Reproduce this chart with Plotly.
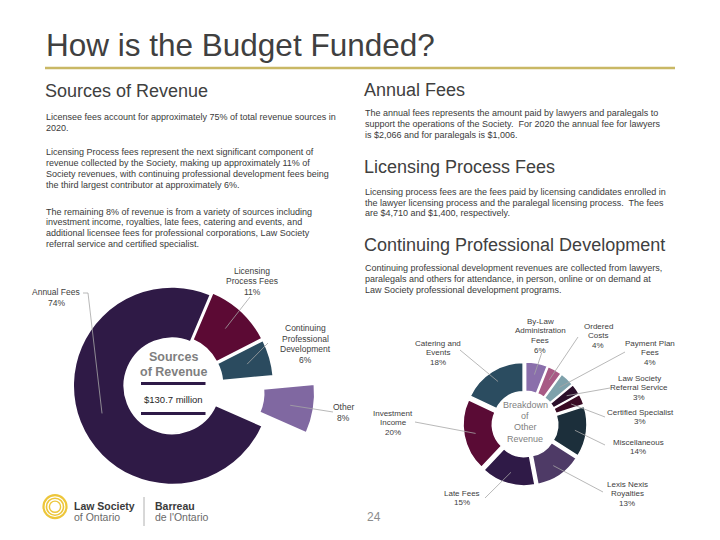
import math
import plotly.graph_objects as go

# ---------------- data ----------------
title_text = "How is the Budget Funded?"

src_categories = ["Annual Fees", "Licensing<br>Process Fees", "Continuing<br>Professional<br>Development", "Other"]
src_values = [74, 11, 6, 8]
src_total_text = "$130.7 million"

oth_categories = ["By-Law<br>Administration<br>Fees", "Ordered<br>Costs", "Payment Plan<br>Fees",
                  "Law Society<br>Referral Service", "Certified Specialist", "Miscellaneous",
                  "Lexis Nexis<br>Royalties", "Late Fees", "Investment<br>Income", "Catering and<br>Events"]
oth_values = [6, 4, 4, 3, 3, 14, 13, 15, 20, 18]

left_header = "Sources of Revenue"
left_paragraphs = [
    ["Licensee fees account for approximately 75% of total revenue sources in",
     "2020."],
    ["Licensing Process fees represent the next significant component of",
     "revenue collected by the Society, making up approximately 11% of",
     "Society revenues, with continuing professional development fees being",
     "the third largest contributor at approximately 6%."],
    ["The remaining 8% of revenue is from a variety of sources including",
     "investment income, royalties, late fees, catering and events, and",
     "additional licensee fees for professional corporations, Law Society",
     "referral service and certified specialist."],
]
right_sections = [
    ("Annual Fees",
     ["The annual fees represents the amount paid by lawyers and paralegals to",
      "support the operations of the Society.  For 2020 the annual fee for lawyers",
      "is $2,066 and for paralegals is $1,006."]),
    ("Licensing Process Fees",
     ["Licensing process fees are the fees paid by licensing candidates enrolled in",
      "the lawyer licensing process and the paralegal licensing process.  The fees",
      "are $4,710 and $1,400, respectively."]),
    ("Continuing Professional Development",
     ["Continuing professional development revenues are collected from lawyers,",
      "paralegals and others for attendance, in person, online or on demand at",
      "Law Society professional development programs."]),
]
page_number = "24"

# ---------------- styles / layout ----------------
W, H = 720, 540
OFF = 8  # the page body margin shifts the figure by 8px
FONT = "Liberation Sans, Arial, sans-serif"
TXT = "#404040"
LEAD = "#a6a6a6"

src_colors = ["#2f1a46", "#5c0a34", "#2b4b5f", "#8068a1"]
src_pull = [0, 0.03, 0.03, 0.45]
oth_colors = ["#8a6fab", "#a85a85", "#7ea1ab", "#2b0f2a", "#3a0b24",
              "#1c2f3b", "#4e3a66", "#2f1a47", "#5a0b35", "#2b4c60"]
oth_pull = [0.06] * len(oth_values)

# pie geometry (pixels, page coordinates)
L_CX, L_CY, L_R, L_HOLE = 172, 385.8, 99, 0.48
R_CX, R_CY, R_R, R_HOLE = 525, 424, 58.5, 0.5
L_ROT = 113.9
R_ROT = 0


def px(x):
    return (x - OFF) / W


def py(y):
    return 1 - (y - OFF) / H


def domain(cx, cy, r, pulls):
    half = r * (1 + max(pulls))
    return dict(x=[px(cx - half), px(cx + half)], y=[py(cy + half), py(cy - half)])


def slice_point(values, i, rot, cx, cy, r, frac, pull):
    tot = sum(values)
    a = rot + 360.0 * (sum(values[:i]) + values[i] / 2.0) / tot
    rad = math.radians(a)
    rr = r * frac + r * pull
    return cx + rr * math.sin(rad), cy - rr * math.cos(rad)


fig = go.Figure()
fig.add_trace(go.Pie(
    labels=[c.replace("<br>", " ") for c in src_categories], values=src_values,
    sort=False, direction="clockwise", rotation=L_ROT, hole=L_HOLE,
    pull=src_pull, textinfo="none", hoverinfo="label+percent",
    marker=dict(colors=src_colors, line=dict(color="white", width=2)),
    domain=domain(L_CX, L_CY, L_R, src_pull), showlegend=False,
))
fig.add_trace(go.Pie(
    labels=[c.replace("<br>", " ") for c in oth_categories], values=oth_values,
    sort=False, direction="clockwise", rotation=R_ROT, hole=R_HOLE,
    pull=oth_pull, textinfo="none", hoverinfo="label+percent",
    marker=dict(colors=oth_colors, line=dict(color="white", width=1.5)),
    domain=domain(R_CX, R_CY, R_R, oth_pull), showlegend=False,
))

annotations = []
shapes = []


def text(x, y, s, size, color=TXT, anchor="center", bold=False):
    if bold:
        s = "<b>" + s + "</b>"
    annotations.append(dict(x=px(x), y=py(y), xref="paper", yref="paper", text=s,
                            showarrow=False, xanchor=anchor, yanchor="middle",
                            font=dict(family=FONT, size=size, color=color)))


def lines_block(x, y0, lines, size, spacing, color=TXT, anchor="center", bold=False):
    for k, ln in enumerate(lines):
        text(x, y0 + k * spacing, ln, size, color, anchor, bold)


def seg(pts, color=LEAD, width=0.8):
    path = "M " + " L ".join(f"{px(a)},{py(b)}" for a, b in pts)
    shapes.append(dict(type="path", xref="paper", yref="paper", path=path,
                       line=dict(color=color, width=width)))


# title
text(44, 45, title_text, 31.5, "#404040", "left")
shapes.append(dict(type="line", xref="paper", yref="paper", x0=px(45), x1=px(675),
                   y0=py(68), y1=py(68), line=dict(color="#c9b865", width=2.5)))

# left column text
text(43, 91, left_header, 18, "#404040", "left")
para_y = [117.3, 152.3, 211.7]
for y0, para in zip(para_y, left_paragraphs):
    lines_block(44, y0, para, 9, 10.8, "#3a3a3a", "left")

# right column text
head_y = [90, 166.7, 245]
body_y = [113.3, 191.7, 268.3]
for (hd, body), hy, by in zip(right_sections, head_y, body_y):
    text(362, hy, hd, 18, "#404040", "left")
    lines_block(363, by, body, 9, 10.8, "#3a3a3a", "left")

# ---------- left donut labels ----------
L_LABEL_POS = [(56, 292), (252, 270.5), (305, 328), (343, 407)]
L_LEAD_START = [[(83, 293), (88, 293)], [(250, 297)], [(268, 343)], [(333, 412)]]
for i, (cat, v) in enumerate(zip(src_categories, src_values)):
    lx, ly = L_LABEL_POS[i]
    lines_block(lx, ly, cat.split("<br>") + [f"{v}%"], 8.5, 10.6, TXT)
    end = slice_point(src_values, i, L_ROT, L_CX, L_CY, L_R, 0.76, src_pull[i])
    seg(L_LEAD_START[i] + [end])

# left center text
lines_block(L_CX + 1, 357, ["Sources", "of Revenue"], 12.5, 15, "#7f7f7f", bold=True)
for yy in (383.5, 413.5):
    shapes.append(dict(type="line", xref="paper", yref="paper", x0=px(141), x1=px(205.5),
                       y0=py(yy), y1=py(yy), line=dict(color="#2e1a47", width=3)))
text(L_CX + 1, 399, src_total_text, 9.5, "#262626")

# ---------- right donut labels ----------
R_LABEL_POS = [(540, 321), (598, 326), (650, 343), (639, 378), (640, 412),
               (638, 442), (627, 484), (462, 493), (393, 413), (438, 343)]
R_LEAD_START = [(541.7, 353), (578, 337), (625, 352), (610, 388), (605, 417),
                (605, 445), (603, 492), (485, 498), (415, 422), (460, 350)]
for i, (cat, v) in enumerate(zip(oth_categories, oth_values)):
    lx, ly = R_LABEL_POS[i]
    lines_block(lx, ly, cat.split("<br>") + [f"{v}%"], 8, 9.7, TXT)
    end = slice_point(oth_values, i, R_ROT, R_CX, R_CY, R_R, 0.8, oth_pull[i])
    seg([R_LEAD_START[i], end])

lines_block(R_CX, 405, ["Breakdown", "of", "Other", "Revenue"], 9, 11.2, "#7f7f7f")

# ---------- logo ----------
GOLD = "#edc63a"
for rr, wd in ((11.5, 2.2), (8.5, 1.6), (5.6, 1.4)):
    shapes.append(dict(type="circle", xref="paper", yref="paper",
                       x0=px(55 - rr), x1=px(55 + rr), y0=py(506.7 + rr), y1=py(506.7 - rr),
                       line=dict(color=GOLD, width=wd)))
text(71.5, 506, "Law Society", 10.5, "#3a3a3a", "left", bold=True)
text(71.5, 517, "of Ontario", 10.5, "#6a6a6a", "left")
shapes.append(dict(type="line", xref="paper", yref="paper", x0=px(144), x1=px(144),
                   y0=py(497), y1=py(526), line=dict(color="#b0b0b0", width=1)))
text(152.5, 506, "Barreau", 10.5, "#3a3a3a", "left", bold=True)
text(152.5, 517, "de l'Ontario", 10.5, "#6a6a6a", "left")

text(374, 517, page_number, 12, "#8c8c8c")

fig.update_layout(
    width=W, height=H, margin=dict(l=0, r=0, t=0, b=0),
    paper_bgcolor="white", plot_bgcolor="white",
    annotations=annotations, shapes=shapes,
    font=dict(family=FONT),
)

fig.write_html("out.html")
